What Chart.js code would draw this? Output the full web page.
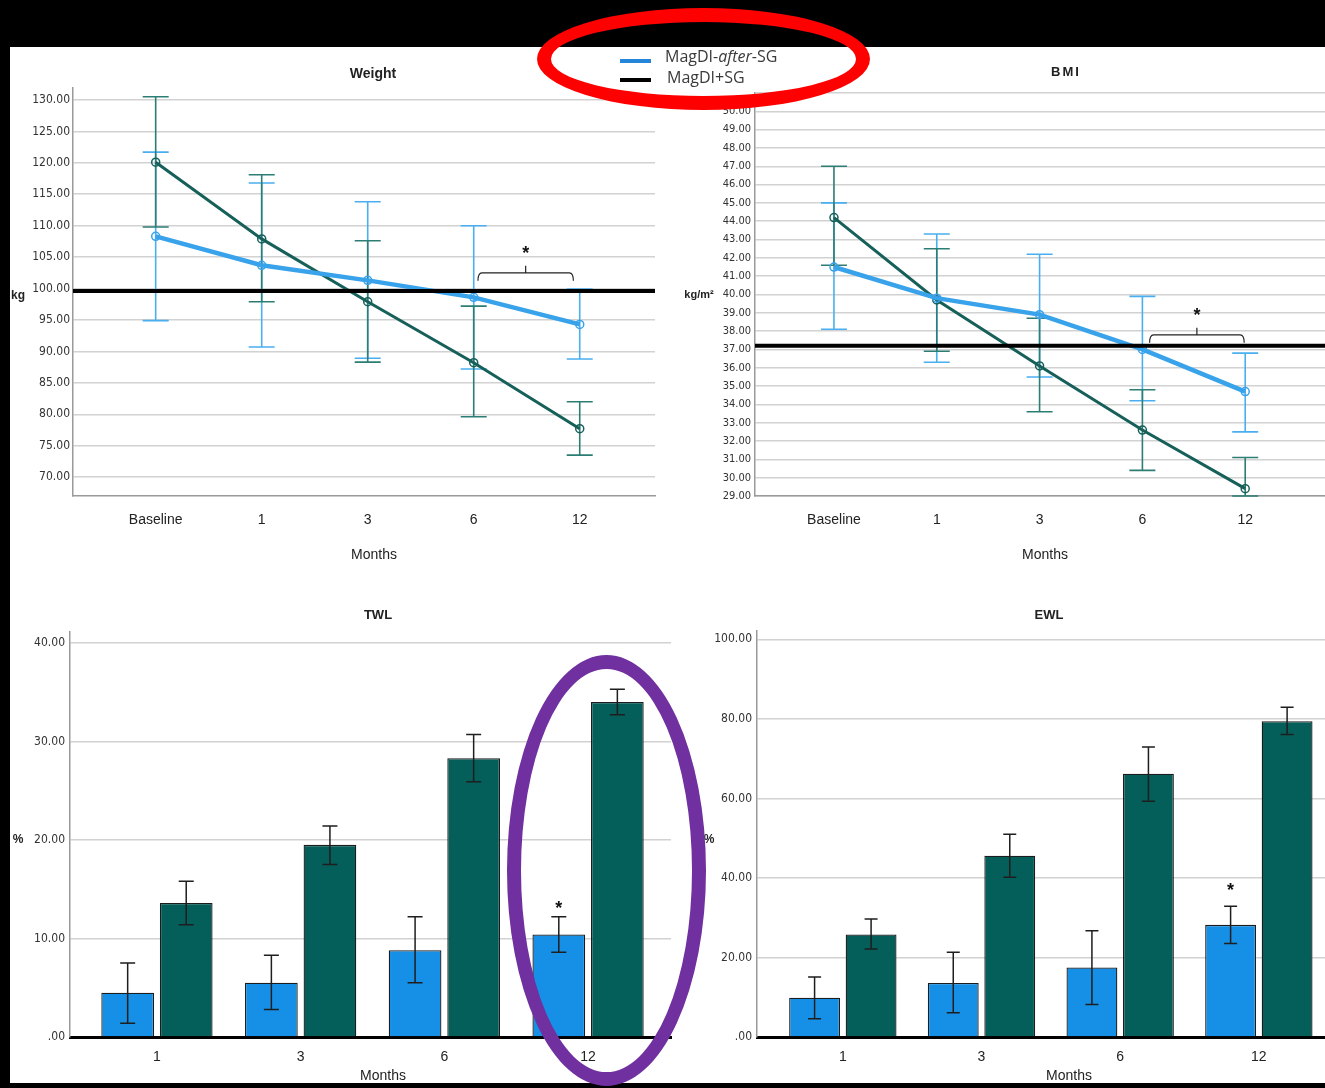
<!DOCTYPE html>
<html><head><meta charset="utf-8">
<script src="https://cdn.jsdelivr.net/npm/chart.js@4.4.1/dist/chart.umd.min.js"></script>
<style>
html,body{margin:0;padding:0;background:#000;}
#page{position:relative;width:1325px;height:1088px;background:#000;overflow:hidden;}
#sheet{position:absolute;left:10px;top:47px;width:1315px;height:1036px;background:#fff;}
canvas{position:absolute;}
.ell{position:absolute;border-style:solid;border-radius:50%;box-sizing:border-box;pointer-events:none;background:transparent;}
.sw{position:absolute;width:31px;height:4px;}
.lt{position:absolute;font-family:'Open Sans','Liberation Sans',sans-serif;font-size:16px;line-height:20px;color:#3a3a3a;white-space:nowrap;}
</style></head>
<body>
<div id="page">
  <div id="sheet"></div>
  <canvas id="cWeight" width="650" height="540" style="left:10px;top:47px"></canvas>
  <canvas id="cBmi" width="655" height="540" style="left:670px;top:47px"></canvas>
  <canvas id="cTwl" width="680" height="496" style="left:10px;top:587px"></canvas>
  <canvas id="cEwl" width="635" height="496" style="left:690px;top:587px"></canvas>
  <div class="sw" style="left:620px;top:59px;background:#2585d8"></div>
  <div class="lt" style="left:665px;top:46px">MagDI-<i>after</i>-SG</div>
  <div class="sw" style="left:620px;top:78px;background:#000"></div>
  <div class="lt" style="left:667px;top:67px">MagDI+SG</div>
  <div class="ell" style="left:537px;top:8px;width:333px;height:102px;border-width:14px;border-color:#ff0000"></div>
  <div class="ell" style="left:507px;top:655px;width:199px;height:431px;border-width:14px;border-color:#7030a0"></div>
</div>
<script>
// ---------- DATA ----------
const timeLabels = ['Baseline', '1', '3', '6', '12'];
const weightAfterMean = [108.3, 103.7, 101.3, 98.6, 94.3];
const weightAfterLow  = [94.9, 90.7, 88.9, 87.2, 88.8];
const weightAfterHigh = [121.7, 116.8, 113.8, 110.0, 99.9];
const weightPlusMean  = [120.1, 107.9, 97.9, 88.2, 77.7];
const weightPlusLow   = [109.8, 97.9, 88.3, 79.6, 73.5];
const weightPlusHigh  = [130.5, 118.1, 107.6, 97.2, 82.0];
const weightRefLine = 99.6;
const weightTicks = [70, 75, 80, 85, 90, 95, 100, 105, 110, 115, 120, 125, 130];
const weightBracket = [3.04, 3.94, 102.5];
const weightStar = [3.49, 106.2];

const bmiAfterMean = [41.5, 39.8, 38.9, 37.0, 34.7];
const bmiAfterLow  = [38.1, 36.3, 35.5, 34.2, 32.5];
const bmiAfterHigh = [45.0, 43.3, 42.2, 39.9, 36.8];
const bmiPlusMean  = [44.2, 39.7, 36.1, 32.6, 29.4];
const bmiPlusLow   = [41.6, 36.9, 33.6, 30.4, 29.0];
const bmiPlusHigh  = [47.0, 42.5, 38.7, 34.8, 31.1];
const bmiRefLine = 37.2;
const bmiTicks = [29,30,31,32,33,34,35,36,37,38,39,40,41,42,43,44,45,46,47,48,49,50,51];
const bmiBracket = [3.07, 3.99, 37.8];
const bmiStar = [3.53, 39.05];

const lossLabels = ['1', '3', '6', '12'];
const twlAfter     = [4.5, 5.5, 8.8, 10.4];
const twlAfterLow  = [1.4, 2.8, 5.5, 8.6];
const twlAfterHigh = [7.5, 8.3, 12.2, 12.2];
const twlPlus      = [13.6, 19.5, 28.3, 34.0];
const twlPlusLow   = [11.4, 17.5, 25.9, 32.7];
const twlPlusHigh  = [15.8, 21.4, 30.7, 35.3];
const twlTicks = [0, 10, 20, 30, 40];
const twlStar = [3, 13.4];   // [group index of MagDI-after-SG bar, value]

const ewlAfter     = [9.9, 13.6, 17.5, 28.2];
const ewlAfterLow  = [4.6, 6.1, 8.2, 23.5];
const ewlAfterHigh = [15.1, 21.3, 26.7, 32.9];
const ewlPlus      = [25.8, 45.6, 66.2, 79.4];
const ewlPlusLow   = [22.1, 40.2, 59.3, 76.1];
const ewlPlusHigh  = [29.7, 51.0, 72.9, 82.9];
const ewlTicks = [0, 20, 40, 60, 80, 100];
const ewlStar = [3, 37.8];

// ---------- STYLE ----------
const FONT_NUM = "'Liberation Sans Narrow','DejaVu Sans Condensed','Liberation Sans',sans-serif";
const FONT_TXT = "'Liberation Sans','Arial',sans-serif";
const GRID = '#d2d2d2';
const AXIS = '#9a9a9a';
const BLUE_LINE = '#38a2ea', BLUE_ERR = '#4aaff0';
const TEAL_LINE = '#17605a', TEAL_ERR = '#2c7d74';
const BLUE_BAR = '#1690e6', TEAL_BAR = '#045e5a';

function numLabel(v) { return v === 0 ? '.00' : v.toFixed(2); }

function drawOverlay(chart, layer) {
  const o = chart.options.plugins.overlay; if (!o) return;
  const ctx = chart.ctx, xs = chart.scales.x, ys = chart.scales.y, ca = chart.chartArea;
  ctx.save();
  (o.errorBars || []).forEach(eb => {
    if (eb.layer !== layer) return;
    const meta = chart.getDatasetMeta(eb.dataset);
    ctx.strokeStyle = eb.color; ctx.lineWidth = eb.width; ctx.lineCap = 'butt';
    meta.data.forEach((el, i) => {
      const x = el.x;
      const y1 = ys.getPixelForValue(eb.low[i]);
      const y2 = ys.getPixelForValue(eb.high[i]);
      const h = eb.cap / 2;
      ctx.beginPath();
      ctx.moveTo(x, y1); ctx.lineTo(x, y2);
      ctx.moveTo(x - h, y1); ctx.lineTo(x + h, y1);
      ctx.moveTo(x - h, y2); ctx.lineTo(x + h, y2);
      ctx.stroke();
    });
  });
  if (layer === 'after') {
    if (o.refLine != null) {
      const y = ys.getPixelForValue(o.refLine);
      ctx.strokeStyle = '#000'; ctx.lineWidth = 4;
      ctx.beginPath(); ctx.moveTo(ca.left, y); ctx.lineTo(ca.right, y); ctx.stroke();
    }
    if (o.bracket) {
      const [a, b, v] = o.bracket;
      const x1 = xs.getPixelForValue(a), x2 = xs.getPixelForValue(b), y = ys.getPixelForValue(v);
      const m = (x1 + x2) / 2;
      ctx.strokeStyle = '#222'; ctx.lineWidth = 1.2;
      ctx.beginPath();
      ctx.moveTo(x1, y + 8); ctx.quadraticCurveTo(x1, y, x1 + 4, y); ctx.lineTo(x2 - 4, y); ctx.quadraticCurveTo(x2, y, x2, y + 8);
      ctx.moveTo(m, y); ctx.lineTo(m, y - 7);
      ctx.stroke();
    }
    if (o.star) {
      const [a, v] = o.star;
      let px;
      if (o.starDataset != null) px = chart.getDatasetMeta(o.starDataset).data[a].x;
      else px = xs.getPixelForValue(a);
      ctx.fillStyle = '#111'; ctx.font = 'bold 18px ' + FONT_TXT;
      ctx.textAlign = 'center'; ctx.textBaseline = 'middle';
      ctx.fillText('*', px, ys.getPixelForValue(v) + 4);
    }
    (o.texts || []).forEach(t => {
      ctx.fillStyle = t.color || '#222';
      ctx.font = t.font;
      if ('letterSpacing' in ctx) ctx.letterSpacing = t.spacing || '0px';
      ctx.textAlign = 'center'; ctx.textBaseline = 'middle';
      ctx.fillText(t.text, t.x, t.y);
    });
  }
  ctx.restore();
}

const overlayPlugin = {
  id: 'overlay',
  beforeDatasetsDraw(chart) { drawOverlay(chart, 'before'); },
  afterDatasetsDraw(chart) { drawOverlay(chart, 'after'); }
};

function makeOptions(p) {
  return {
    responsive: false, animation: false, devicePixelRatio: 1,
    layout: { autoPadding: false, padding: { left: 0, top: p.top, right: p.right, bottom: 0 } },
    plugins: { legend: { display: false }, title: { display: false }, tooltip: { enabled: false }, overlay: p.overlay },
    scales: {
      x: {
        type: 'linear', min: p.xMin, max: p.xMax, offset: false,
        afterBuildTicks: s => { s.ticks = p.xLabels.map((_, i) => ({ value: i })); },
        afterFit: s => { s.height = p.xHeight; },
        ticks: { callback: v => p.xLabels[v] ?? '', font: { family: FONT_TXT, size: 14 }, color: '#222', padding: p.xPad, maxRotation: 0, autoSkip: false },
        grid: { display: false, drawTicks: false },
        border: { display: true, color: p.xBorderColor, width: p.xBorderWidth }
      },
      y: {
        type: 'linear', min: p.yMin, max: p.yMax,
        afterBuildTicks: s => { s.ticks = p.yTicks.map(v => ({ value: v })); },
        afterFit: s => { s.width = p.yWidth; },
        ticks: { callback: v => (p.yHide || []).includes(v) ? '' : numLabel(v), font: { family: FONT_NUM, size: p.yFont }, color: '#333', padding: p.yPad, autoSkip: false },
        grid: { color: GRID, lineWidth: 1.5, drawTicks: false },
        border: { display: true, color: AXIS, width: 1.5 }
      }
    }
  };
}

function lineSet(vals, color, width) {
  return {
    type: 'line', data: vals.map((v, i) => ({ x: i, y: v })),
    borderColor: color, borderWidth: width, tension: 0, fill: false,
    pointRadius: 4, pointBorderWidth: 1.5, pointBorderColor: color, pointBackgroundColor: 'rgba(255,255,255,0)'
  };
}
function barSet(vals, color) {
  return {
    type: 'bar', data: vals.map((v, i) => ({ x: i, y: v })),
    backgroundColor: color, borderColor: '#1c1c1c', borderWidth: 1.3,
    barPercentage: 0.9, categoryPercentage: 0.815
  };
}

// ---------- WEIGHT ----------
new Chart(document.getElementById('cWeight'), {
  type: 'line',
  data: { datasets: [lineSet(weightAfterMean, BLUE_LINE, 4.5), lineSet(weightPlusMean, TEAL_LINE, 3)] },
  plugins: [overlayPlugin],
  options: makeOptions({
    top: 41, right: 5, xHeight: 91, yWidth: 63, xPad: 16, yPad: 3, yFont: 12,
    xMin: -0.78, xMax: 4.71, yMin: 67, yMax: 131.9, xLabels: timeLabels, yTicks: weightTicks,
    xBorderColor: AXIS, xBorderWidth: 1.5,
    overlay: {
      errorBars: [
        { dataset: 0, low: weightAfterLow, high: weightAfterHigh, color: BLUE_ERR, width: 1.6, cap: 26, layer: 'before' },
        { dataset: 1, low: weightPlusLow, high: weightPlusHigh, color: TEAL_ERR, width: 1.6, cap: 26, layer: 'before' }
      ],
      refLine: weightRefLine, bracket: weightBracket, star: weightStar,
      texts: [
        { text: 'Weight', x: 363, y: 27, font: 'bold 14px ' + FONT_TXT },
        { text: 'Months', x: 364, y: 508, font: '14px ' + FONT_TXT },
        { text: 'kg', x: 8, y: 249, font: 'bold 12px ' + FONT_TXT }
      ]
    }
  })
});

// ---------- BMI ----------
new Chart(document.getElementById('cBmi'), {
  type: 'line',
  data: { datasets: [lineSet(bmiAfterMean, BLUE_LINE, 4.5), lineSet(bmiPlusMean, TEAL_LINE, 3)] },
  plugins: [overlayPlugin],
  options: makeOptions({
    top: 46, right: 0, xHeight: 91, yWidth: 85, xPad: 16, yPad: 4, yFont: 11,
    xMin: -0.768, xMax: 4.776, yMin: 29, yMax: 51, xLabels: timeLabels, yTicks: bmiTicks, yHide: [51],
    xBorderColor: AXIS, xBorderWidth: 1.5,
    overlay: {
      errorBars: [
        { dataset: 0, low: bmiAfterLow, high: bmiAfterHigh, color: BLUE_ERR, width: 1.6, cap: 26, layer: 'before' },
        { dataset: 1, low: bmiPlusLow, high: bmiPlusHigh, color: TEAL_ERR, width: 1.6, cap: 26, layer: 'before' }
      ],
      refLine: bmiRefLine, bracket: bmiBracket, star: bmiStar,
      texts: [
        { text: 'BMI', x: 396, y: 25, font: 'bold 13px ' + FONT_TXT, spacing: '2px' },
        { text: 'Months', x: 375, y: 508, font: '14px ' + FONT_TXT },
        { text: 'kg/m²', x: 29, y: 248, font: 'bold 11px ' + FONT_TXT }
      ]
    }
  })
});

// ---------- TWL ----------
new Chart(document.getElementById('cTwl'), {
  type: 'bar',
  data: { datasets: [barSet(twlAfter, BLUE_BAR), barSet(twlPlus, TEAL_BAR)] },
  plugins: [overlayPlugin],
  options: makeOptions({
    top: 45, right: 19, xHeight: 46, yWidth: 60, xPad: 12, yPad: 5, yFont: 12,
    xMin: -0.605, xMax: 3.577, yMin: 0, yMax: 41.1, xLabels: lossLabels, yTicks: twlTicks,
    xBorderColor: '#000', xBorderWidth: 3,
    overlay: {
      errorBars: [
        { dataset: 0, low: twlAfterLow, high: twlAfterHigh, color: '#1e1e1e', width: 1.5, cap: 15, layer: 'after' },
        { dataset: 1, low: twlPlusLow, high: twlPlusHigh, color: '#1e1e1e', width: 1.5, cap: 15, layer: 'after' }
      ],
      star: twlStar, starDataset: 0,
      texts: [
        { text: 'TWL', x: 368, y: 28, font: 'bold 13px ' + FONT_TXT },
        { text: 'Months', x: 373, y: 489, font: '14px ' + FONT_TXT },
        { text: '%', x: 8, y: 253, font: 'bold 12px ' + FONT_TXT }
      ]
    }
  })
});

// ---------- EWL ----------
new Chart(document.getElementById('cEwl'), {
  type: 'bar',
  data: { datasets: [barSet(ewlAfter, BLUE_BAR), barSet(ewlPlus, TEAL_BAR)] },
  plugins: [overlayPlugin],
  options: makeOptions({
    top: 44, right: 0, xHeight: 46, yWidth: 67, xPad: 12, yPad: 5, yFont: 12,
    xMin: -0.619, xMax: 3.477, yMin: 0, yMax: 102.1, xLabels: lossLabels, yTicks: ewlTicks,
    xBorderColor: '#000', xBorderWidth: 3,
    overlay: {
      errorBars: [
        { dataset: 0, low: ewlAfterLow, high: ewlAfterHigh, color: '#1e1e1e', width: 1.5, cap: 13, layer: 'after' },
        { dataset: 1, low: ewlPlusLow, high: ewlPlusHigh, color: '#1e1e1e', width: 1.5, cap: 13, layer: 'after' }
      ],
      star: ewlStar, starDataset: 0,
      texts: [
        { text: 'EWL', x: 359, y: 28, font: 'bold 13px ' + FONT_TXT },
        { text: 'Months', x: 379, y: 489, font: '14px ' + FONT_TXT },
        { text: '%', x: 19, y: 253, font: 'bold 12px ' + FONT_TXT }
      ]
    }
  })
});
</script>
</body></html>
